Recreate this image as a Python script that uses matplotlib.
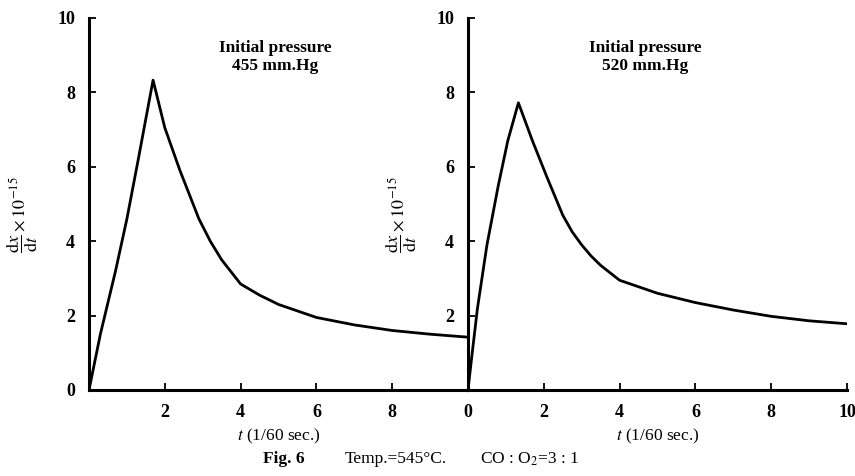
import matplotlib
matplotlib.use("Agg")
import matplotlib.pyplot as plt

# Data
t_455 = [0, 0.3, 0.7, 1.0, 1.3, 1.69, 2.0, 2.4, 2.9, 3.2, 3.5, 4.0, 4.5, 5.0, 6.0, 7.0, 8.0, 9.0, 10.0]
r_455 = [0, 1.5, 3.2, 4.6, 6.2, 8.33, 7.05, 5.9, 4.6, 4.0, 3.5, 2.85, 2.55, 2.3, 1.95, 1.75, 1.6, 1.5, 1.42]

t_520 = [0, 0.1, 0.25, 0.5, 0.8, 1.05, 1.33, 1.7, 2.08, 2.5, 2.75, 3.0, 3.25, 3.5, 4.0, 5.0, 6.0, 7.0, 8.0, 9.0, 10.0]
r_520 = [0, 0.9, 2.2, 3.9, 5.5, 6.7, 7.72, 6.7, 5.73, 4.7, 4.25, 3.9, 3.6, 3.35, 2.95, 2.6, 2.35, 2.15, 1.98, 1.86, 1.78]

left_xticks = [2, 4, 6, 8]
right_xticks = [0, 2, 4, 6, 8, 10]
left_yticks = [0, 2, 4, 6, 8, 10]
right_yticks = [2, 4, 6, 8, 10]

plt.rcParams['font.family'] = ['Liberation Serif', 'DejaVu Serif']
plt.rcParams['mathtext.fontset'] = 'stix'

fig = plt.figure(figsize=(8.55, 4.76), dpi=100)
axL = fig.add_axes([89/855, 1-390/476, 379/855, 372/476])
axR = fig.add_axes([468/855, 1-390/476, 379/855, 372/476])

panels = [
    (axL, t_455, r_455, left_xticks, left_yticks, "Initial pressure\n455 mm.Hg", 275, 22),
    (axR, t_520, r_520, right_xticks, right_yticks, "Initial pressure\n520 mm.Hg", 645, 401),
]

ylab = r'$\dfrac{\mathrm{d}x}{\mathrm{d}t}\times\mathrm{10}^{-15}$'

for ax, t, r, xt, yt, note, nx, lx in panels:
    ax.plot(t, r, color='black', lw=2.0, solid_joinstyle='round')
    ax.set_xlim(0, 10)
    ax.set_ylim(0, 10)
    ax.spines['top'].set_visible(False)
    ax.spines['right'].set_visible(False)
    ax.spines['left'].set_linewidth(2.2)
    ax.spines['bottom'].set_linewidth(2.2)
    ax.set_xticks(xt)
    ax.set_yticks(yt)
    ax.tick_params(direction='in', length=5, width=1.3, labelsize=13, pad=10)
    for lab in ax.get_xticklabels() + ax.get_yticklabels():
        lab.set_fontweight('bold')
    ax.set_xlabel(r'$t$ (1/60 sec.)', fontsize=12.5, labelpad=4)
    fig.text(lx/855, 1-215/476, ylab, rotation=90, ha='center', va='center', fontsize=13)
    fig.text(nx/855, 1-57/476, note, ha='center', va='center', fontsize=12.5,
             fontweight='bold', linespacing=1.2)

fig.text(263/855, 1-459/476, "Fig. 6", ha='left', va='center', fontsize=12.5, fontweight='bold')
fig.text(345/855, 1-459/476, "Temp.=545°C.", ha='left', va='center', fontsize=12.5)
fig.text(480/855, 1-459/476, r"CO : O$_2$=3 : 1", ha='left', va='center', fontsize=12.5)

fig.savefig("out.png", dpi=100)
